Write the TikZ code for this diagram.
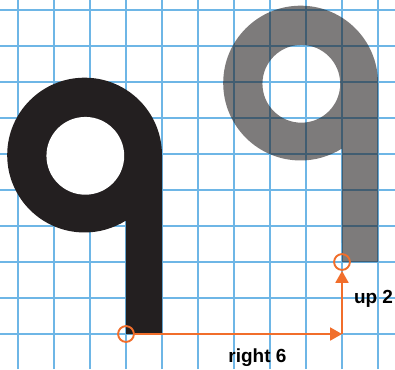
\documentclass[tikz,border=0pt]{standalone}
\usepackage{fontspec}
\newfontfamily\labelfont{Liberation Sans}
\usepackage{xcolor}
\usetikzlibrary{arrows.meta,positioning,calc}
\definecolor{gridblue}{RGB}{110,182,230}
\definecolor{glyphblack}{RGB}{35,31,32}
\definecolor{moveorange}{RGB}{241,110,43}
% outline of the q: stem plus the outer ring
\newcommand{\qoutline}{(0,0) -- (1,0) -- (1,4.97) arc[start angle=0, end angle=302.3, radius=2.15] -- cycle}
\newcommand{\qhole}{(-1.13,4.95) circle (1.08)}

\begin{document}
\begin{tikzpicture}[>={Triangle[length=0.33cm,width=0.36cm]}, line join=round,
  gridline/.style={gridblue, line width=1.4pt},
  mark ring/.style={circle, draw=moveorange, line width=1.5pt, minimum size=0.44cm, inner sep=0pt},
  move/.style={->, moveorange, line width=1.5pt},
  steplabel/.style={font=\labelfont\bfseries\fontsize{15}{18}\selectfont, inner sep=0pt, anchor=base}]
\useasboundingbox (-3.5,-0.972) rectangle (7.472,9.278);
\fill[white] (-3.5,-0.972) rectangle (7.472,9.278);
\draw[gridline] (-3.5,-0.972) grid (7.472,9.278);
% original glyph
\fill[glyphblack] \qoutline;
\fill[white] \qhole;
% translated copy
\begin{scope}[shift={(6,2)}]
\fill[glyphblack, fill opacity=0.59, even odd rule] \qoutline \qhole;
\end{scope}
\node[mark ring] (start) at (0,0) {};
\node[mark ring] (finish) at (6,2) {};
\coordinate (corner) at (6,0);
\draw[move] (start) -- (corner);
\draw[move] (corner) -- (finish);
\node[steplabel] (rightlbl) at (3.65,-0.78) {right 6};
\node[steplabel] (uplbl) at (6.875,0.86) {up 2};
\end{tikzpicture}
\end{document}
